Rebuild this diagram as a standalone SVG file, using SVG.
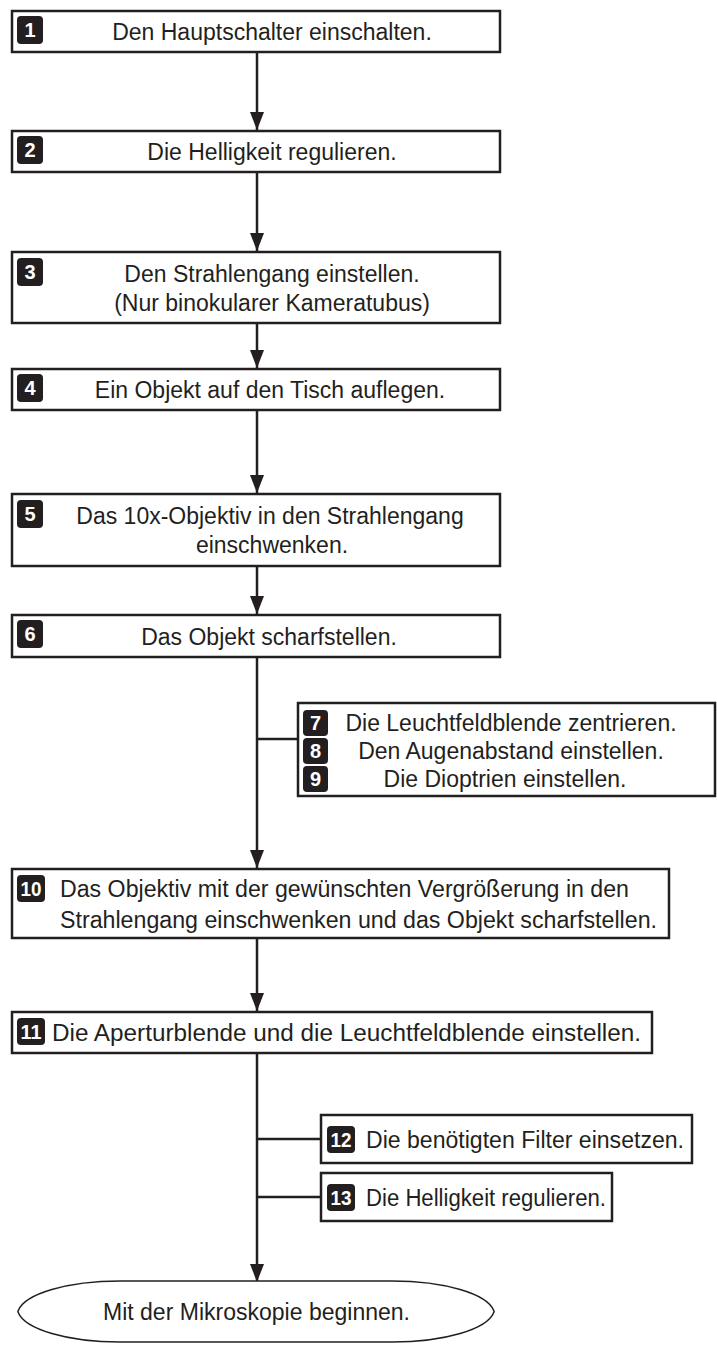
<svg xmlns="http://www.w3.org/2000/svg" width="717" height="1350" viewBox="0 0 717 1350">
<style>
.box{fill:#fff;stroke:#231f20;stroke-width:2.5}
.t{font-family:"Liberation Sans",Arial,sans-serif;font-size:23px;fill:#231f20}
.c{text-anchor:middle}
.badge{fill:#231f20}
.bn{font-family:"Liberation Sans",Arial,sans-serif;font-size:20px;font-weight:bold;fill:#fff;text-anchor:middle}
.edge{stroke:#231f20;stroke-width:2.5;fill:none}
.arr{marker-end:url(#ah)}
</style>
<defs>
<marker id="ah" markerUnits="userSpaceOnUse" markerWidth="18" markerHeight="14" refX="18" refY="7" orient="auto">
<path d="M0,0 L18,7 L0,14 Z" fill="#231f20"/>
</marker>
</defs>
<rect width="717" height="1350" fill="#fff"/>
<g id="connectors">
<line class="edge arr" x1="257" y1="52" x2="257" y2="130"/>
<line class="edge arr" x1="257" y1="172" x2="257" y2="251"/>
<line class="edge arr" x1="257" y1="323" x2="257" y2="368"/>
<line class="edge arr" x1="257" y1="410" x2="257" y2="493"/>
<line class="edge arr" x1="257" y1="566" x2="257" y2="614"/>
<line class="edge arr" x1="257" y1="657" x2="257" y2="868"/>
<line class="edge" x1="257" y1="739" x2="298" y2="739"/>
<line class="edge arr" x1="257" y1="938" x2="257" y2="1011"/>
<line class="edge arr" x1="257" y1="1053" x2="257" y2="1282"/>
<line class="edge" x1="257" y1="1139" x2="321" y2="1139"/>
<line class="edge" x1="257" y1="1197" x2="321" y2="1197"/>
</g>
<g id="n1">
<rect class="box" x="12" y="11" width="488" height="41"/>
<rect class="badge" x="17" y="16" width="26" height="28" rx="4"/>
<text class="bn" x="30" y="37">1</text>
<text class="t c" x="272" y="40">Den Hauptschalter einschalten.</text>
</g>
<g id="n2">
<rect class="box" x="12" y="131" width="488" height="41"/>
<rect class="badge" x="17" y="136" width="26" height="28" rx="4"/>
<text class="bn" x="30" y="157">2</text>
<text class="t c" x="272" y="160">Die Helligkeit regulieren.</text>
</g>
<g id="n3">
<rect class="box" x="12" y="252" width="488" height="71"/>
<rect class="badge" x="17" y="258" width="26" height="28" rx="4"/>
<text class="bn" x="30" y="279">3</text>
<text class="t c" x="272" y="282">Den Strahlengang einstellen.</text>
<text class="t c" x="272" y="311">(Nur binokularer Kameratubus)</text>
</g>
<g id="n4">
<rect class="box" x="12" y="369" width="488" height="41"/>
<rect class="badge" x="17" y="374" width="26" height="28" rx="4"/>
<text class="bn" x="30" y="395">4</text>
<text class="t c" x="270" y="398">Ein Objekt auf den Tisch auflegen.</text>
</g>
<g id="n5">
<rect class="box" x="12" y="494" width="488" height="72"/>
<rect class="badge" x="17" y="500" width="26" height="28" rx="4"/>
<text class="bn" x="30" y="521">5</text>
<text class="t c" x="270" y="524">Das 10x-Objektiv in den Strahlengang</text>
<text class="t c" x="272" y="553">einschwenken.</text>
</g>
<g id="n6">
<rect class="box" x="12" y="615" width="488" height="42"/>
<rect class="badge" x="17" y="620" width="26" height="28" rx="4"/>
<text class="bn" x="30" y="641">6</text>
<text class="t c" x="269" y="645">Das Objekt scharfstellen.</text>
</g>
<g id="n7-9">
<rect class="box" x="298" y="703" width="417" height="93"/>
<rect class="badge" x="303" y="710" width="25" height="26" rx="4"/>
<text class="bn" x="315.5" y="730">7</text>
<text class="t c" x="511" y="731">Die Leuchtfeldblende zentrieren.</text>
<rect class="badge" x="303" y="738" width="25" height="26" rx="4"/>
<text class="bn" x="315.5" y="758">8</text>
<text class="t c" x="511" y="759">Den Augenabstand einstellen.</text>
<rect class="badge" x="303" y="766" width="25" height="26" rx="4"/>
<text class="bn" x="315.5" y="786">9</text>
<text class="t c" x="505" y="787">Die Dioptrien einstellen.</text>
</g>
<g id="n10">
<rect class="box" x="12" y="869" width="657" height="69"/>
<rect class="badge" x="17" y="875" width="28" height="27" rx="4"/>
<text class="bn" x="31" y="896" textLength="21" lengthAdjust="spacingAndGlyphs">10</text>
<text class="t" x="60" y="897" textLength="569" lengthAdjust="spacingAndGlyphs">Das Objektiv mit der gewünschten Vergrößerung in den</text>
<text class="t" x="60" y="928" textLength="597" lengthAdjust="spacingAndGlyphs">Strahlengang einschwenken und das Objekt scharfstellen.</text>
</g>
<g id="n11">
<rect class="box" x="12" y="1012" width="640" height="41"/>
<rect class="badge" x="17" y="1018" width="28" height="27" rx="4"/>
<text class="bn" x="31" y="1039" textLength="21" lengthAdjust="spacingAndGlyphs">11</text>
<text class="t" x="52" y="1041" textLength="589" lengthAdjust="spacingAndGlyphs">Die Aperturblende und die Leuchtfeldblende einstellen.</text>
</g>
<g id="n12">
<rect class="box" x="321" y="1115" width="371" height="48"/>
<rect class="badge" x="327" y="1126" width="28" height="27" rx="4"/>
<text class="bn" x="341" y="1147" textLength="21" lengthAdjust="spacingAndGlyphs">12</text>
<text class="t" x="366" y="1148" textLength="318" lengthAdjust="spacingAndGlyphs">Die benötigten Filter einsetzen.</text>
</g>
<g id="n13">
<rect class="box" x="321" y="1173" width="291" height="48"/>
<rect class="badge" x="327" y="1184" width="28" height="27" rx="4"/>
<text class="bn" x="341" y="1205" textLength="21" lengthAdjust="spacingAndGlyphs">13</text>
<text class="t" x="366" y="1206" textLength="240" lengthAdjust="spacingAndGlyphs">Die Helligkeit regulieren.</text>
</g>
<g id="end">
<path d="M120,1283 L392,1283 C445,1283 486,1296 492,1311.5 C486,1327 445,1340 392,1340 L120,1340 C67,1340 26,1327 20,1311.5 C26,1296 67,1283 120,1283 Z" fill="#fff" stroke="#231f20" stroke-width="5.5"/>
<path d="M120,1283 L392,1283 C445,1283 486,1296 492,1311.5 C486,1327 445,1340 392,1340 L120,1340 C67,1340 26,1327 20,1311.5 C26,1296 67,1283 120,1283 Z" fill="#fff" stroke="#fff" stroke-width="2.5"/>
<text class="t" x="103" y="1320" textLength="307" lengthAdjust="spacingAndGlyphs">Mit der Mikroskopie beginnen.</text>
</g>
</svg>
